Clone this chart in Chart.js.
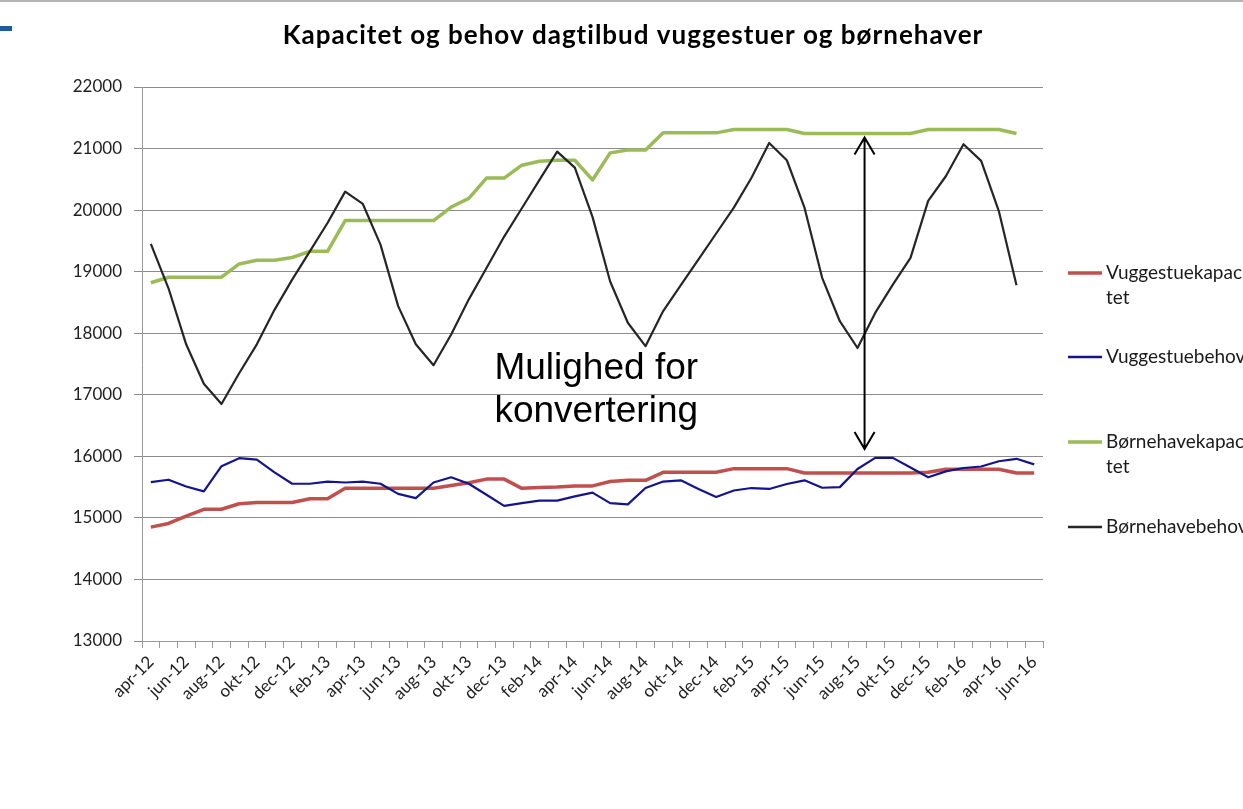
<!DOCTYPE html>
<html><head><meta charset="utf-8">
<script src="https://cdn.jsdelivr.net/npm/chart.js@4.4.1/dist/chart.umd.min.js"></script>
<style>html,body{margin:0;padding:0;background:#fff;overflow:hidden}#wrap{width:1243px;height:809px;position:relative}canvas{display:block}</style>
</head><body><div id="wrap"><canvas id="c" width="1243" height="809"></canvas></div>
<script>
const months = ['apr-12','maj-12','jun-12','jul-12','aug-12','sep-12','okt-12','nov-12','dec-12',
 'jan-13','feb-13','mar-13','apr-13','maj-13','jun-13','jul-13','aug-13','sep-13','okt-13','nov-13','dec-13',
 'jan-14','feb-14','mar-14','apr-14','maj-14','jun-14','jul-14','aug-14','sep-14','okt-14','nov-14','dec-14',
 'jan-15','feb-15','mar-15','apr-15','maj-15','jun-15','jul-15','aug-15','sep-15','okt-15','nov-15','dec-15',
 'jan-16','feb-16','mar-16','apr-16','maj-16','jun-16'];

const vuggestueKapacitet = [14850,14910,15030,15140,15140,15230,15250,15250,15250,15310,
 15310,15480,15480,15480,15480,15480,15480,15525,15570,15630,
 15630,15480,15495,15500,15520,15520,15590,15610,15610,15740,
 15740,15740,15740,15800,15800,15800,15800,15730,15730,15730,
 15730,15730,15730,15730,15740,15790,15790,15790,15790,15730,
 15730];
const vuggestueBehov = [15580,15620,15510,15430,15840,15970,15945,15740,15555,15555,
 15590,15575,15590,15555,15390,15320,15575,15660,15555,15375,
 15195,15240,15280,15280,15350,15410,15240,15220,15485,15590,
 15610,15470,15340,15445,15485,15470,15550,15610,15490,15500,
 15795,15975,15975,15820,15660,15755,15810,15835,15920,15960,
 15870];
const boernehaveKapacitet = [18820,18910,18910,18910,18910,19125,19185,19185,19230,19330,
 19330,19830,19830,19830,19830,19830,19830,20050,20190,20520,
 20520,20730,20795,20810,20810,20490,20930,20975,20975,21255,
 21255,21255,21255,21310,21310,21310,21310,21245,21245,21245,
 21245,21245,21245,21245,21310,21310,21310,21310,21310,21245,
 null];
const boernehaveBehov = [19450,18730,17820,17180,16850,17350,17820,18380,18870,19330,
 19790,20300,20100,19440,18440,17820,17480,17980,18550,19060,
 19570,20030,20490,20950,20690,19890,18840,18170,17790,18360,
 18780,19200,19620,20040,20525,21090,20810,20040,18900,18195,
 17760,18330,18790,19225,20150,20550,21070,20800,19985,18780,
 null];

const yTicks = {min:13000, max:22000, step:1000};
const seriesNames = ['Vuggestuekapacitet','Vuggestuebehov','Børnehavekapacitet','Børnehavebehov'];
const legendLines = [['Vuggestuekapaci','tet'],['Vuggestuebehov'],['Børnehavekapaci','tet'],['Børnehavebehov']];
const titleText = 'Kapacitet og behov dagtilbud vuggestuer og børnehaver';
const noteLines = ['Mulighed for','konvertering'];
const noteAt = {index:19.45, value:17250};
const arrowAt = {index:40.4, top:21180, bottom:16120};

const colors = ['#C0504D','#14148C','#9BBB59','#262626'];
const widths = [3.5,2.2,3.5,2.2];

const decorPlugin = {
  id:'decor',
  beforeDraw(chart){
    const ctx = chart.ctx;
    ctx.save();
    ctx.fillStyle = '#fff';
    ctx.fillRect(0,0,chart.width,chart.height);
    ctx.fillStyle = '#b4b4b4';
    ctx.fillRect(0,0,chart.width,2);
    ctx.fillStyle = '#1F5C99';
    ctx.fillRect(0,26,12,5);
    ctx.restore();
  },
  afterDraw(chart){
    const ctx = chart.ctx;
    const xs = chart.scales.x, ys = chart.scales.y;
    ctx.save();
    // title
    ctx.fillStyle = '#000';
    ctx.font = 'bold 26px Lato';
    try { ctx.letterSpacing = '1px'; } catch(e) {}
    ctx.textAlign = 'center';
    ctx.textBaseline = 'alphabetic';
    ctx.fillText(titleText, 633, 44);
    try { ctx.letterSpacing = '0px'; } catch(e) {}
    // note text
    ctx.font = '37px "Liberation Sans"';
    ctx.textAlign = 'left';
    const nx = xs.getPixelForValue(noteAt.index), ny = ys.getPixelForValue(noteAt.value);
    noteLines.forEach((t,i)=>ctx.fillText(t, nx, ny + i*43));
    // double arrow
    const ax = xs.getPixelForValue(arrowAt.index);
    const at = ys.getPixelForValue(arrowAt.top), ab = ys.getPixelForValue(arrowAt.bottom);
    ctx.strokeStyle = '#000';
    ctx.lineWidth = 2;
    ctx.beginPath();
    ctx.moveTo(ax, at); ctx.lineTo(ax, ab);
    ctx.moveTo(ax-10, at+17); ctx.lineTo(ax, at); ctx.lineTo(ax+10, at+17);
    ctx.moveTo(ax-10, ab-17); ctx.lineTo(ax, ab); ctx.lineTo(ax+10, ab-17);
    ctx.stroke();
    // legend
    const ly = [273,357,442,527];
    ctx.font = '19px Lato';
    ctx.textAlign = 'left';
    ctx.fillStyle = '#1a1a1a';
    legendLines.forEach((lines,i)=>{
      ctx.strokeStyle = colors[i];
      ctx.lineWidth = widths[i] < 3 ? 2.5 : 3.5;
      ctx.beginPath(); ctx.moveTo(1068, ly[i]); ctx.lineTo(1102, ly[i]); ctx.stroke();
      lines.forEach((t,j)=>ctx.fillText(t, 1106, ly[i] + 6 + j*25));
    });
    ctx.restore();
  }
};

const seriesData = [vuggestueKapacitet, vuggestueBehov, boernehaveKapacitet, boernehaveBehov];
new Chart(document.getElementById('c'), {
  type:'line',
  data:{
    labels: months,
    datasets: seriesNames.map((n,i)=>({
      label:n, data:seriesData[i], borderColor:colors[i], backgroundColor:colors[i],
      borderWidth:widths[i], pointRadius:0, tension:0, fill:false, order:4-i,
      borderJoinStyle:'round', borderCapStyle:'butt', spanGaps:false
    }))
  },
  options:{
    responsive:false, animation:false, devicePixelRatio:1,
    layout:{padding:{top:87,right:200,bottom:0,left:0}},
    plugins:{legend:{display:false}, title:{display:false}, tooltip:{enabled:false}},
    scales:{
      x:{
        offset:true,
        grid:{display:true, drawOnChartArea:false, drawTicks:true, tickLength:7, color:'#9a9a9a', offset:true},
        border:{display:true, color:'#9a9a9a', width:1},
        ticks:{autoSkip:false, maxRotation:45, minRotation:45, padding:4, color:'#222',
          font:{family:'Lato', size:17},
          callback:function(v,i){ return i%2===0 ? this.getLabelForValue(v) : ''; }},
        afterFit:s=>{ s.height = 168; }
      },
      y:{
        min:yTicks.min, max:yTicks.max,
        ticks:{stepSize:yTicks.step, padding:12, color:'#222', font:{family:'Lato', size:17},
          callback:v=>String(v)},
        grid:{color:'#8c8c8c', tickLength:8, drawTicks:true},
        border:{display:true, color:'#9a9a9a'},
        afterFit:s=>{ s.width = 142; }
      }
    }
  },
  plugins:[decorPlugin]
});
</script>
</body></html>
